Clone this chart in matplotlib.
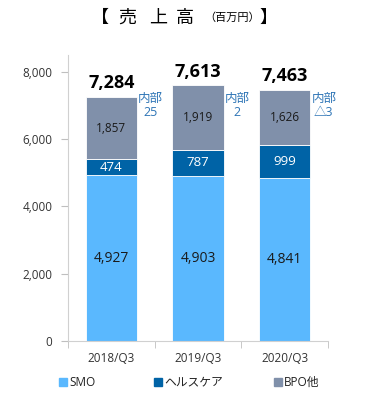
import matplotlib
matplotlib.use("Agg")
import matplotlib.pyplot as plt
from matplotlib.lines import Line2D
import numpy as np

plt.rcParams['font.family'] = ['Open Sans', 'Noto Sans CJK JP', 'DejaVu Sans']

# データ
periods = ["2018/Q3", "2019/Q3", "2020/Q3"]
smo = [4927, 4903, 4841]
health = [474, 787, 999]
bpo = [1857, 1919, 1626]
totals = [7284, 7613, 7463]
internal = ["25", "2", "△3"]
series_names = ["SMO", "ヘルスケア", "BPO他"]

c_smo = "#5ab8fe"
c_health = "#0063a6"
c_bpo = "#8090aa"
c_internal = "#2e75b6"

fig = plt.figure(figsize=(3.75, 4.2), dpi=100)
ax = fig.add_axes([0.181, 0.188, 0.694, 0.681])

x = np.arange(len(periods))
w = 0.59
bottom2 = np.array(smo)
bottom3 = bottom2 + np.array(health)

ax.bar(x, smo, w, color=c_smo, edgecolor="white", linewidth=0.6)
ax.bar(x, health, w, bottom=bottom2, color=c_health, edgecolor="white", linewidth=0.6)
ax.bar(x, bpo, w, bottom=bottom3, color=c_bpo, edgecolor="white", linewidth=0.6)

for i in range(len(periods)):
    ax.text(x[i], smo[i] / 2, f"{smo[i]:,}", ha="center", va="center",
            fontsize=10, color="#1a1a1a")
    ax.text(x[i], bottom2[i] + health[i] / 2, f"{health[i]:,}", ha="center",
            va="center", fontsize=9.5, color="white")
    ax.text(x[i], bottom3[i] + bpo[i] / 2, f"{bpo[i]:,}", ha="center",
            va="center", fontsize=8.5, color="#1a1a1a")
    top = bottom3[i] + bpo[i]
    ax.text(x[i], top + 130, f"{totals[i]:,}", ha="center", va="bottom",
            fontsize=13, fontweight="bold", color="black")
    ax.text(x[i] + 0.45, 7000, "内部\n" + internal[i], ha="center", va="center",
            fontsize=9, color=c_internal, linespacing=1.15)

ax.set_xlim(-0.5, 2.5)
ax.set_ylim(0, 8500)
ax.set_yticks([0, 2000, 4000, 6000, 8000])
ax.set_yticklabels([f"{v:,}" for v in [0, 2000, 4000, 6000, 8000]])
ax.set_xticks(x)
ax.set_xticklabels(periods)
ax.set_xticks([-0.5, 0.5, 1.5, 2.5], minor=True)
ax.tick_params(axis="x", which="major", length=0, pad=8, labelsize=8.5, labelcolor="#333333")
ax.tick_params(axis="x", which="minor", length=5, color="#bfbfbf")
ax.tick_params(axis="y", length=5, color="#bfbfbf", labelsize=8.5, labelcolor="#333333", pad=6)
for s in ["top", "right"]:
    ax.spines[s].set_visible(False)
ax.spines["left"].set_color("#d0d0d0")
ax.spines["bottom"].set_color("#d0d0d0")

# タイトル
ty = 1 - 18 / 420
fig.text(0.267, ty, "【", fontsize=13, ha="center", va="center")
fig.text(0.339, ty, "売", fontsize=13, ha="center", va="center")
fig.text(0.421, ty, "上", fontsize=13, ha="center", va="center")
fig.text(0.493, ty, "高", fontsize=13, ha="center", va="center")
fig.text(0.619, ty, "（百万円）", fontsize=8, ha="center", va="center")
fig.text(0.715, ty, "】", fontsize=13, ha="center", va="center")

# 凡例
ly = 1 - 382 / 420
for mx, name, c in zip([63, 158, 278], series_names, [c_smo, c_health, c_bpo]):
    fig.add_artist(Line2D([mx / 375], [ly], marker="s", markersize=6, color=c,
                          linestyle="none", transform=fig.transFigure))
    fig.text((mx + 6) / 375, ly, name, fontsize=8.5, ha="left", va="center", color="#222222")

fig.savefig("out.png", dpi=100)
